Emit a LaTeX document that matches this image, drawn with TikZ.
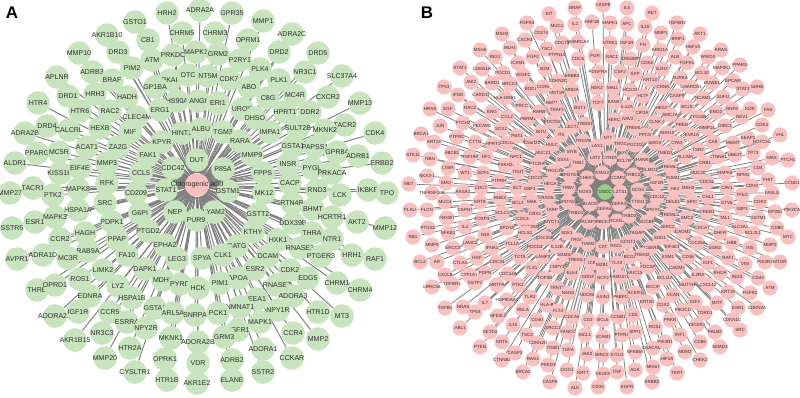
\documentclass[tikz,border=0pt]{standalone}
\usepackage{fontspec}
\setmainfont{Liberation Sans}
\usepackage{xcolor}
\usepackage{tikz}
\usetikzlibrary{backgrounds}
\definecolor{targetgreen}{RGB}{200,228,190}
\definecolor{targetpink}{RGB}{249,192,192}
\definecolor{hubgreen}{RGB}{150,206,132}
\definecolor{edgegray}{RGB}{128,128,128}
\definecolor{labelgray}{RGB}{45,45,45}

\begin{document}
\begin{tikzpicture}[x=0.025cm, y=-0.025cm,
    anode/.style={circle, fill=targetgreen, minimum size=0.59cm, inner sep=0pt},
    bnode/.style={circle, fill=targetpink, minimum size=0.38cm, inner sep=0pt},
    alabel/.style={font=\fontsize{5}{5}\selectfont, text=labelgray, inner sep=0pt},
    blabel/.style={font=\fontsize{3.2}{3.2}\selectfont, text=labelgray, inner sep=0pt},
    aedge/.style={draw=edgegray, line width=0.7pt},
    bedge/.style={draw=edgegray, line width=0.55pt},
    panel/.style={font=\fontsize{12}{12}\selectfont\bfseries}]
    \useasboundingbox (0,0) rectangle (800,397);

    \node[panel] (pa) at (12,13) {A};
    \node[panel] (pb) at (427,13) {B};

    % panel A: chlorogenic acid and its targets
    \foreach \x/\y/\lab [count=\i] in {
        197/160/DUT, 223/169/P85A, 228/191/GSTM1, 214/212/LYAM2, 196/220/PUR9, 175/212/NEP, 166/190/STAT1, 173/168/CDC42,
        182/133/HINT1, 201/129/ALBU, 223/132/TGM3, 240/141/RARA, 252/155/MMP9, 263/173/FPPS, 264/193/MK12, 258/214/GSTT2,
        253/232/KTHY, 237/246/CATG, 223/255/CLK1, 202/258/SPYA, 177/259/LEG3, 165/245/EPHA2, 148/231/PTGD2, 140/213/G6PI,
        136/193/CD209, 141/173/CCL5, 148/155/FAK1, 162/142/KPYR,
        135/22/GSTO1, 167/13/HRH2, 200/10/ADRA2A, 232/13/GPR35, 263/21/MMP1, 107/35/AKR1B10, 148/40/CB1, 182/33/CHRM5,
        215/33/CHRM3, 248/40/OPRM1, 292/34/ADRA2C, 79/53/MMP10, 118/52/DRD3, 152/60/ATM, 173/55/PRKDC, 196/52/MAPK1,
        218/54/GRM2, 240/60/P2RY1, 279/52/DRD2, 318/53/DRD5, 57/77/APLNR, 92/72/ADRB3, 132/68/PIM2, 112/80/BRAF,
        170/80/MAPKAPK2, 155/87/GP1BA, 188/75/OTC, 208/76/NT5M, 229/79/CDK7, 260/69/PLK4, 305/72/NR3C1, 342/76/SLC37A4,
        249/87/ABO, 279/80/PLK1, 38/103/HTR4, 68/96/DRD1, 95/94/HRH3, 127/97/HADH, 177/101/HS90A, 198/101/ANGI,
        218/103/ERI1, 268/98/C8G, 295/95/MC4R, 328/97/CXCR2, 360/103/MMP13, 80/111/HTR6, 110/111/RAC2, 137/117/CLEC4M,
        160/110/ERG1, 242/109/UROK, 255/118/DHSO, 285/112/HPRT1, 310/112/DDR2, 345/125/TACR2, 47/126/DRD4, 69/130/CALCRL,
        100/128/HEXB, 130/132/MIF, 270/132/IMPA1, 298/128/SULT2B, 325/130/MKNK2, 375/133/CDK4, 25/133/ADRA2B, 37/153/PPARG,
        59/152/MC5R, 87/147/ACAT1, 118/147/ZA2G, 293/146/GSTA1, 315/147/PAPSS1, 337/152/GPR84, 358/156/ADRB1, 382/163/ERBB2,
        15/163/ALDR1, 60/173/KISS1R, 80/168/EIF4E, 107/163/MMP3, 288/164/INSR, 312/168/PYGL, 332/173/PRKACA, 33/188/TACR1,
        10/193/MMP27, 53/195/PTK2, 78/189/MAPK8, 107/183/RFK, 290/183/CACP, 317/190/RND3, 340/195/LCK, 368/190/IKBKB,
        387/193/TPO, 35/222/ESR1, 55/217/MAPK3, 78/210/HSPA1A, 105/203/SRC, 292/203/RTN4R, 313/209/BHMT, 332/217/HCRTR1,
        357/222/AKT2, 385/228/MMP12, 12/228/SSTR5, 112/222/PDPK1, 293/223/DDX39B, 85/233/HAGH, 312/233/THRA, 332/239/NTR1,
        60/239/CCR2, 117/239/PPAP, 278/240/HXK1, 300/248/RNASE3, 88/251/RAB9A, 43/255/ADRA1D, 68/258/MC3R, 127/255/FA10,
        268/256/DCAM, 321/256/PTGER3, 352/255/HRH1, 375/259/RAF1, 17/259/AVPR1, 103/270/LIMK2, 145/269/DAPK1, 255/269/ESR2,
        290/270/CDK2, 80/279/ROS1, 163/280/MDH2, 238/278/APOA, 308/278/EDG5, 37/290/THRB, 55/285/OPRD1, 118/286/LYZ,
        180/284/PYRD, 198/288/HCK, 220/283/PIM1, 277/285/RNASE7, 337/283/CHRM1, 360/290/CHRM4, 90/296/EDNRA, 132/298/HSPA1B,
        257/299/EEA1, 293/296/ADORA3, 240/307/NMNAT1, 278/310/NPY1R, 318/312/HTR1D, 342/316/MT3, 55/316/ADORA2A, 78/312/IGF1R,
        110/312/CCR5, 155/308/GSTA3, 173/313/ARL5A, 195/315/SNRPA, 218/313/PCK1, 127/322/ESRRA, 260/322/MAPK1, 238/330/FGFR1,
        102/333/NR3C3, 146/328/NPY2R, 171/338/MKNK1, 224/337/GRM3, 198/342/ADORA2B, 293/333/CCR4, 318/339/MMP2, 75/340/AKR1B15,
        130/348/HTR2A, 263/349/ADORA1, 105/358/MMP20, 165/359/OPRK1, 292/358/CCKAR, 232/360/ADRB2, 198/363/VDR, 135/372/CYSLTR1,
        263/372/SSTR2, 167/380/HTR1B, 232/380/ELANE, 197/383/AKR1E2} {
        \node[anode, label={[alabel]center:\lab}] (a\i) at (\x,\y) {};
        \xdef\nA{\i}
    }
    \node[anode, fill=targetpink, label={[alabel]center:Chlorogenic acid}] (chlor) at (197,185) {};

    % panel B: OSCC and its genes
    \foreach \x/\y/\lab [count=\i] in {
        549/14/KIT, 575/8/BRAF, 603/5/CASP8, 627/8/IL5, 652/13/RET, 527/23/FGFR3, 557/26/MUC1, 575/24/IL2,
        592/22/HNF1B, 610/23/MAPK1, 627/24/APC, 645/27/IL10, 677/23/TGFBR2, 661/33/MMP1, 700/34/AKT1, 502/34/MSH2,
        541/33/CD274, 525/40/CXCR4, 562/43/CDC73, 578/42/SMARCA4, 610/43/NTRK1, 627/43/IGF1R, 643/45/FH, 678/39/BRIP1,
        480/50/MSH6, 510/48/MLH1, 547/49/TSC1, 660/50/ARID1A, 693/47/HNF1A, 721/50/KRAS, 495/57/ING1, 533/57/FGF2,
        557/55/PTPN11, 578/59/CDC6, 595/56/PGR, 612/57/RAC1, 630/59/CREBBP, 647/63/CDK6, 675/57/ALB, 708/57/WWOX,
        460/68/STAT1, 482/69/CDKN1B, 518/63/ICAM1, 503/73/PDCD1, 545/69/B2M, 572/76/ERBB3, 598/72/PDGFRA, 620/72/CSF2,
        635/74/SYP, 662/69/EZH2, 687/63/FGFR1, 722/68/MAP2K1, 740/65/PPARG, 471/82/JAK2, 492/83/BARD1, 523/75/VEGFC,
        510/84/BRCC3, 558/81/CDKN2C, 572/90/MNDA, 597/88/NEK2, 613/88/MALL, 630/90/HCG22, 650/80/KRT13, 680/78/AURKA,
        702/73/BCL10, 733/81/EPCAM, 757/87/SDHB, 444/87/TP53, 458/95/IFNG, 481/95/CARD11, 505/98/HLA-DRB1, 531/89/BOD1,
        543/87/CCR6, 557/93/MST1R, 663/87/CRNN, 691/87/SMARCB1, 712/83/HUWE1, 743/89/STAT3, 430/109/HRAS, 448/109/EGF,
        470/108/RAC2, 492/112/ENG, 507/117/CCL2, 522/106/PRCC, 552/103/NMT1, 580/108/BST1, 598/103/TCF7, 615/102/BANK1,
        627/107/IL12A, 643/96/HLTF, 663/108/HESX1, 677/96/CASP9, 687/107/BCL9, 703/98/NCAM1, 723/97/SUFU, 716/112/ENO2,
        732/109/RNF8, 750/109/KDR, 768/110/FAS, 742/117/REV1, 440/126/JUN, 463/123/PTCH2, 482/126/PECAM1, 501/129/SOX2,
        528/119/PBRM1, 539/112/RARB, 557/110/TRAF1, 553/122/PDCD10, 572/127/LECT1, 585/124/TREM1, 615/120/HERC2, 628/119/NAV2,
        642/113/CIP2A, 670/115/SMC1A, 698/117/ZYG11B, 635/128/TREML4, 655/122/CLNK, 682/125/PREB, 707/128/MMP14, 725/126/DIRC1,
        762/125/CDK4, 421/134/BRCA1, 434/142/KRT14, 457/137/PTPRC, 475/142/CTTN, 493/144/HPRT1, 507/143/CDC45, 517/136/PBX1,
        532/143/C5orf22, 541/132/INTU, 561/135/ITK, 552/145/HULC, 583/141/TRGV9, 597/146/LAX1, 608/138/NTT, 622/144/TRGC1,
        635/145/PDCD2, 645/135/PPCS, 655/143/SMOX, 667/133/RDH10, 677/143/CPA3, 692/135/EVA1A, 713/142/CA9, 733/143/MGMT,
        748/138/KEAP1, 762/142/NOTCH1, 780/135/VHL, 413/155/STK11, 430/159/NBN, 452/153/ABCB1, 470/157/RNF19A, 486/157/NF1,
        516/157/NPC1, 543/153/MUC21, 572/152/MYB, 563/160/SSX4, 578/163/TRBJ, 595/158/LAT2, 610/158/CYREN, 624/161/BCL7B,
        642/160/SHANK3, 665/153/TMED2, 685/157/ALCAM, 698/150/TSR2, 718/157/CTNNA1, 735/155/UBE2T, 753/153/TP73, 772/158/MAX,
        788/160/PTCH1, 427/176/NKX3-1, 448/168/LTBR, 465/173/WT1, 483/173/SDF4, 505/165/PSKH2, 518/172/TIGIT, 537/164/PTCRA,
        553/171/TRGC2, 535/178/CDC23, 570/175/SPDYE3, 587/178/CHEK1, 602/173/STAG2, 618/178/CCAR2, 633/175/TRBC2, 650/170/ELMO1,
        670/167/TREML2, 673/178/INSM1, 698/173/MUC20, 705/163/CRB1, 725/173/MAPK8, 743/175/NPM1, 758/168/CD4, 409/184/MET,
        432/193/TNFRSF10B, 446/183/SMO, 463/192/RASA1, 481/188/CDC7, 499/181/PTPRH, 517/188/SCT, 530/189/EBF1, 550/184/HECA,
        568/188/TRBV, 585/192/NOS3, 620/192/LZTS1, 638/190/SCG5, 657/183/IGF2R, 675/189/HK2, 688/188/MSH3, 707/182/CDC5L,
        727/188/CAV1, 742/195/TFE3, 752/186/CDH2, 768/180/FHIT, 792/183/CCND1, 772/193/FASLG, 500/198/RHEX, 548/198/RADIL,
        590/204/BLACE, 604/209/DEFA6, 619/204/DEFA4, 638/202/TTIM1, 657/197/CDC42, 673/202/DELE1, 692/202/SPIC, 708/197/CHL1,
        727/203/ETV6, 760/202/CDK2, 775/212/EP300, 792/210/PIK3CA, 445/202/MUC4, 480/202/KRT8, 518/203/BCL3, 532/202/MAK,
        568/202/SPDYE5, 410/210/PLAU, 427/210/FLCN, 465/210/CAPN7, 447/218/FBXW7, 482/219/FOXP3, 502/213/SCLC1, 522/219/CCDC34,
        535/214/CBX2, 552/210/TARP, 576/213/TRBD1, 589/222/ACAP3, 603/222/RBCK1, 617/221/RCAN1, 629/216/TRBD2, 653/210/SPDYC,
        670/215/TREML3, 687/218/SMC2, 707/212/CREB1, 725/218/TAL1, 742/209/XBP1, 758/218/GSTM1, 777/228/CD80, 788/237/MYC,
        428/228/PTGS2, 448/233/NFKB1, 465/227/IL4, 485/235/H19, 507/228/SPDYA, 530/227/CDC25C, 552/222/MYCT1, 567/233/SDK1,
        637/233/TAGAP, 647/222/SDCBP, 668/227/BIRC2, 683/232/CADM2, 702/228/CDCA7, 720/233/DHFR, 740/227/SLC2A1, 753/233/BCL2L1,
        770/245/MMP2, 413/237/RB1, 432/245/MMP9, 470/243/LAMC2, 525/233/HCLS1, 545/238/CDC25B, 577/240/TRGC, 588/244/TIAM2,
        603/247/CAT, 617/246/RGCC, 628/242/GCNT1, 650/248/CCSER1, 660/238/SOD1, 672/247/EIF4E3, 697/243/CDC25A, 715/248/ESR2,
        732/243/HBB, 750/248/INS, 453/248/ERCC5, 492/248/IFNA1, 512/244/TCL1A, 535/247/PDCD4, 557/247/IL12B, 420/262/BCL2,
        437/262/AR, 460/263/CTLA4, 477/258/HGF, 497/262/CDC34, 520/257/TCTA, 543/257/LAMP3, 565/255/SGMS2, 577/260/TREML1,
        592/263/ICK, 602/265/MZB1, 617/263/TLX3, 630/257/BCO1, 642/255/TREM2, 668/257/ESM1, 688/257/CD46, 728/258/RAF1,
        745/264/VIM, 765/262/PIK3R3, 780/262/MTOR, 445/275/CXCL8, 469/275/CYP1A1, 485/273/PDPN, 508/274/CDC14A, 532/268/TLX1,
        557/267/CNPY3, 572/273/ELK4, 588/277/GDNF, 603/278/NCF2, 620/277/FAM107A, 635/273/MUC15, 648/267/FDCSP, 665/278/BCL11A,
        677/268/CADM3, 698/275/IL2RA, 708/263/IGF1, 720/273/RHOA, 737/277/ING3, 758/278/CD44, 770/288/ATM, 432/287/LRRC56,
        452/284/TGFBR1, 475/283/GSTP1, 497/285/MRTFA, 518/285/PTK2, 545/278/TOP3B, 557/288/TRNT1, 568/293/NANS, 587/295/NDC80,
        603/297/AXIN1, 622/297/PABPC1, 635/293/ACKR1, 653/287/BCCIP, 687/285/MUTYH, 708/285/CXCL12, 728/292/KRT19, 750/293/FGFR2,
        445/308/TGFB1, 463/307/NRAS, 485/303/IL7, 507/300/HSP90AA1, 530/297/TLR2, 547/305/HLA-B, 558/311/FLT4, 475/312/TP63,
        498/316/NFE2L2, 523/310/RELA, 572/317/CDCA8, 588/320/CD2, 603/320/BCL6, 618/317/CCNB1, 633/315/CD5, 647/302/KRT20,
        663/305/CDX2, 673/295/VCAN, 683/310/PIK3CD, 695/302/IGF2, 705/313/TDRD1, 717/303/MITF, 738/308/ESR1, 757/308/CDKN2A,
        732/320/CDKN1C, 740/330/SRC, 460/328/ABL1, 513/325/IL15, 537/320/CD40, 490/332/SETD2, 527/335/TSC2, 553/328/XRCC1,
        568/332/FANCC, 585/335/MCL1, 603/337/VCAM1, 622/335/PTPRA, 635/332/SPP1, 655/327/ROS1, 670/320/PRKN, 680/335/IRF1,
        697/325/DICER1, 715/332/PALB2, 700/342/CD86, 720/347/SMAD4, 480/347/PTEN, 502/342/KRT5, 538/343/CDKN2D, 553/348/ITGB1,
        568/350/TGFA, 587/354/JAK3, 602/355/BIRC5, 617/355/KITLG, 635/352/NFKBIA, 653/348/CEACAM1, 665/342/PIK3R1, 685/352/MDM2,
        667/359/HIF1A, 700/360/CHEK2, 502/360/CTNNB1, 515/353/CASP3, 533/359/RAG1, 548/365/PRKD1, 523/372/BRCA2, 567/370/OGG1,
        583/373/KRT7, 603/374/VEGFA, 617/372/TNF, 635/370/ADA, 653/367/MKI67, 677/373/TERT, 550/382/CASP6, 575/388/ALK,
        598/387/CD34, 627/387/EGFR, 652/382/ERBB2} {
        \node[bnode, label={[blabel]center:\lab}] (b\i) at (\x,\y) {};
        \xdef\nB{\i}
    }
    \node[bnode, fill=hubgreen, label={[blabel]center:OSCC}] (oscc) at (605,192) {};

    \begin{scope}[on background layer]
        \foreach \i in {1,...,\nA} \draw[aedge] (chlor) -- (a\i);
        \foreach \i in {1,...,\nB} \draw[bedge] (oscc) -- (b\i);
    \end{scope}
\end{tikzpicture}
\end{document}
